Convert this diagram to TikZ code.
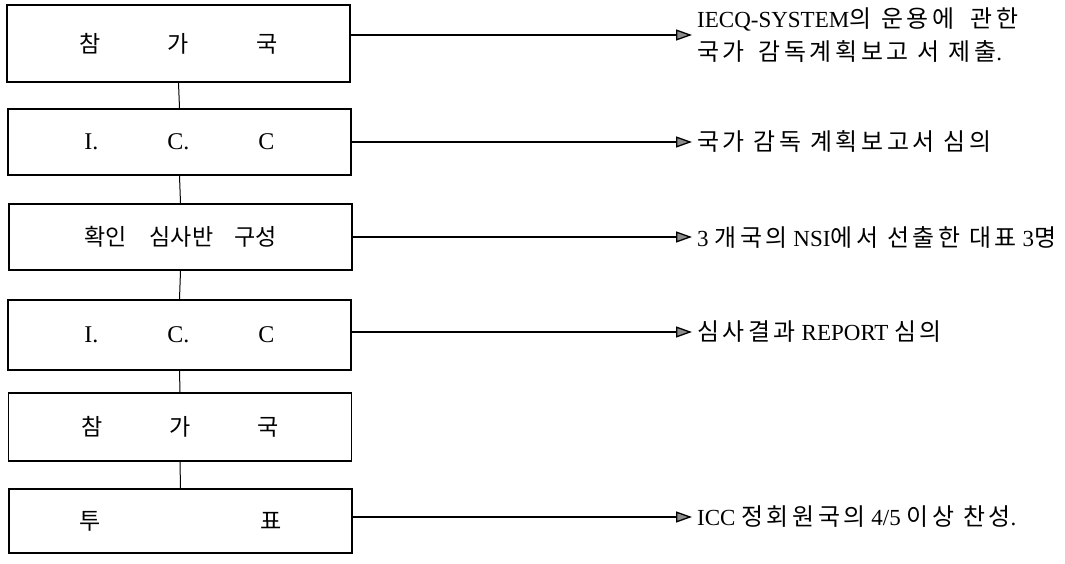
\documentclass[tikz,border=0pt]{standalone}
\usepackage{fontspec}
\usetikzlibrary{arrows.meta,positioning}
\setmainfont{Liberation Serif}
\newfontfamily\kr{Noto Sans CJK KR}[Scale=0.96]
\newfontfamily\krn{Noto Sans CJK KR}[Scale=1.04,LetterSpace=15]

\begin{document}
\begin{tikzpicture}[x=1pt,y=-1pt,
    stepbox/.style={draw,line width=1.8pt,minimum width=343pt,inner sep=0pt,
      font=\fontsize{24}{28}\selectfont},
    link/.style={-{Triangle[length=16pt,width=11pt,fill=black!45]},line width=1.3pt},
    joint/.style={line width=1pt},
    note/.style={anchor=west,inner xsep=5pt,inner ysep=0pt,align=left,
      font=\fontsize{23}{33}\selectfont}]
  \useasboundingbox (0,0) rectangle (1065,564);

  % left column
  \node[stepbox,minimum height=77pt] (b1) at (178.5,43.5)
    {\kr 참\hspace{67pt}가\hspace{67pt}국};
  \node[stepbox,minimum height=66pt] (b2) at (179.5,142)
    {I.\hspace{69pt}C.\hspace{69pt}C};
  \node[stepbox,minimum height=66pt] (b3) at (180.5,237)
    {\kr 확인\hspace{23pt}심사반\hspace{21pt}구성};
  \node[stepbox,minimum height=70pt] (b4) at (179.5,335)
    {I.\hspace{69pt}C.\hspace{69pt}C};
  \node[stepbox,minimum height=68pt] (b5) at (180,427)
    {\kr 참\hspace{67pt}가\hspace{67pt}국};
  \node[stepbox,minimum height=64pt] (b6) at (180.5,521)
    {\kr 투\hspace{159pt}표};

  \draw[joint] (b1.south) -- (b2.north);
  \draw[joint] (b2.south) -- (b3.north);
  \draw[joint] (b3.south) -- (b4.north);
  \draw[joint] (b4.south) -- (b5.north);
  \draw[joint] (b5.south) -- (b6.north);

  % right notes
  \node[note] (n1) at (692,35)
    {IECQ-SYSTEM{\krn 의\hspace{10pt}운용에\hspace{16pt}관한}\\
     {\krn 국가\hspace{14pt}감독계획보고\hspace{9pt}서\hspace{9pt}제출}.};
  \node[note] (n2) at (692,142) {\krn 국가 감독 계획보고서 심의};
  \node[note] (n3) at (692,237)
    {3 {\krn 개국의} NSI{\krn 에서 선출한 대표} 3{\krn 명}};
  \node[note] (n4) at (692,332) {{\krn 심사결과} REPORT {\krn 심의}};
  \node[note] (n6) at (692,517) {ICC {\krn 정회원국의} 4/5 {\krn 이상 찬성}.};

  \draw[link] (b1.east |- n1.west) -- (n1.west);
  \draw[link] (b2.east |- n2.west) -- (n2.west);
  \draw[link] (b3.east |- n3.west) -- (n3.west);
  \draw[link] (b4.east |- n4.west) -- (n4.west);
  \draw[link] (b6.east |- n6.west) -- (n6.west);
\end{tikzpicture}
\end{document}
